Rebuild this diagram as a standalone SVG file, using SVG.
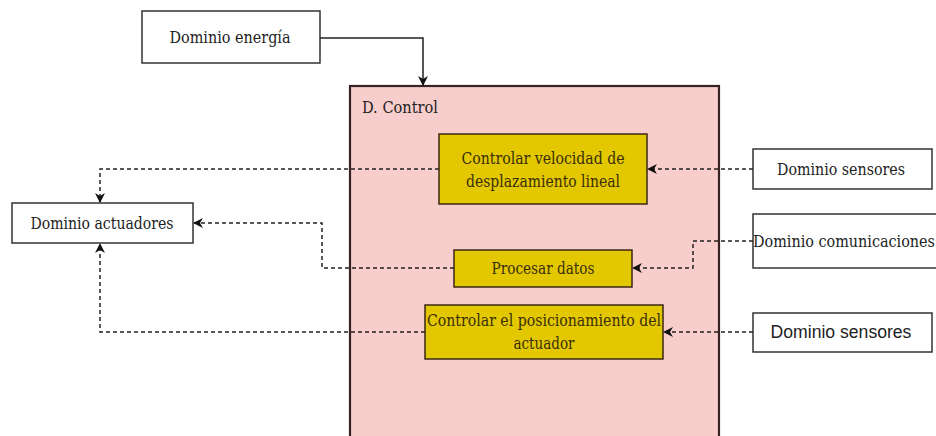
<svg xmlns="http://www.w3.org/2000/svg" width="936" height="436" viewBox="0 0 936 436">
  <style>
    .t { font-family: 'DejaVu Serif Condensed', 'DejaVu Serif', serif; font-size: 16px; fill: #222; }
    .ts { font-family: 'Liberation Sans', Arial, sans-serif; font-size: 17.6px; fill: #222; }
    .ty { font-family: 'DejaVu Serif Condensed', 'DejaVu Serif', serif; font-size: 16px; fill: #3a2e08; }
    .white { fill: #ffffff; stroke: #333; stroke-width: 1.5; }
    .yellow { fill: #e3c800; stroke: #3b2616; stroke-width: 1.5; }
    .ctrl { fill: #f8cecc; stroke: #3a2222; stroke-width: 2.2; }
    .edge { fill: none; stroke: #222; stroke-width: 1.5; }
    .dash { stroke-dasharray: 4 3; }
  </style>
  <defs>
    <marker id="arrow" viewBox="0 0 10 10" refX="9" refY="5" markerWidth="10" markerHeight="10" markerUnits="userSpaceOnUse" orient="auto">
      <path d="M0,0 L10,5 L0,10 L3,5 Z" fill="#111"/>
    </marker>
  </defs>
  <rect width="936" height="436" fill="#ffffff"/>

  <g id="d-control">
    <rect class="ctrl" x="350" y="86" width="369" height="352"/>
    <text class="t" x="362" y="113" textLength="76" lengthAdjust="spacingAndGlyphs">D. Control</text>
  </g>

  <g id="dominio-energia">
    <rect class="white" x="142" y="11" width="178" height="52"/>
    <text class="t" x="230" y="43" text-anchor="middle" textLength="121" lengthAdjust="spacingAndGlyphs">Dominio energía</text>
  </g>

  <g id="controlar-velocidad">
    <rect class="yellow" x="439" y="134" width="208" height="70"/>
    <text class="ty" x="543" y="164" text-anchor="middle" textLength="163" lengthAdjust="spacingAndGlyphs">Controlar velocidad de</text>
    <text class="ty" x="543" y="187" text-anchor="middle" textLength="154" lengthAdjust="spacingAndGlyphs">desplazamiento lineal</text>
  </g>

  <g id="procesar-datos">
    <rect class="yellow" x="454" y="250" width="178" height="37"/>
    <text class="ty" x="543" y="274" text-anchor="middle" textLength="103" lengthAdjust="spacingAndGlyphs">Procesar datos</text>
  </g>

  <g id="controlar-posicionamiento">
    <rect class="yellow" x="425" y="305" width="238" height="54"/>
    <text class="ty" x="544" y="326" text-anchor="middle" textLength="234" lengthAdjust="spacingAndGlyphs">Controlar el posicionamiento del</text>
    <text class="ty" x="544" y="349" text-anchor="middle" textLength="61" lengthAdjust="spacingAndGlyphs">actuador</text>
  </g>

  <g id="dominio-actuadores">
    <rect class="white" x="12" y="203" width="181" height="40"/>
    <text class="t" x="102" y="229" text-anchor="middle" textLength="143" lengthAdjust="spacingAndGlyphs">Dominio actuadores</text>
  </g>

  <g id="dominio-sensores-1">
    <rect class="white" x="753" y="149" width="179" height="40"/>
    <text class="t" x="841" y="175" text-anchor="middle" textLength="128" lengthAdjust="spacingAndGlyphs">Dominio sensores</text>
  </g>

  <g id="dominio-comunicaciones">
    <rect class="white" x="753" y="214" width="190" height="54"/>
    <text class="t" x="844" y="247" text-anchor="middle" textLength="182" lengthAdjust="spacingAndGlyphs">Dominio comunicaciones</text>
  </g>

  <g id="dominio-sensores-2">
    <rect class="white" x="753" y="313" width="179" height="39"/>
    <text class="ts" x="841" y="338" text-anchor="middle">Dominio sensores</text>
  </g>

  <g id="connectors">
    <path class="edge" d="M320,38 H423 V85" marker-end="url(#arrow)"/>
    <path class="edge dash" d="M439,169 H100 V202" marker-end="url(#arrow)"/>
    <path class="edge dash" d="M454,268 H322 V223 H194" marker-end="url(#arrow)"/>
    <path class="edge dash" d="M425,332 H100 V244" marker-end="url(#arrow)"/>
    <path class="edge dash" d="M753,169 H648" marker-end="url(#arrow)"/>
    <path class="edge dash" d="M753,241 H693 V268 H633" marker-end="url(#arrow)"/>
    <path class="edge dash" d="M753,332 H664" marker-end="url(#arrow)"/>
  </g>
</svg>
